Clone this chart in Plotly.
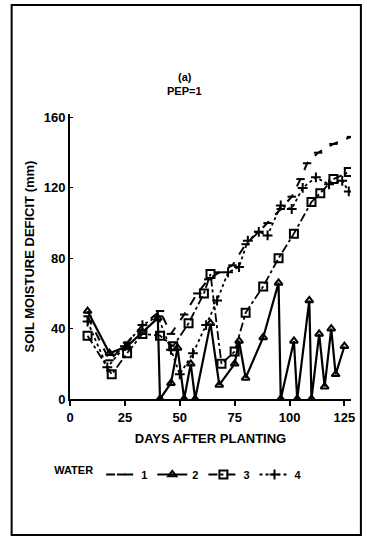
import plotly.graph_objects as go

# ---- data ----
days_w1 = [8, 18, 26, 33, 41, 46, 52, 58, 63, 68, 74, 80, 86, 90, 96, 101, 105, 108, 113, 120, 128]
vals_w1 = [47, 22, 32, 42, 50, 37, 48, 60, 68, 72, 76, 88, 95, 100, 108, 115, 125, 134, 140, 145, 149]

days_w2 = [8, 18, 26, 33, 40, 41, 46, 49, 52, 55, 57, 64, 68, 75, 77, 80, 88, 95, 96, 102, 103.5, 109, 110, 113.5, 116, 119, 121, 125]
vals_w2 = [50, 26, 30, 38, 46, 0, 9, 29, 0, 20, 0, 43, 8, 20, 33, 12, 35, 66, 0, 33, 0, 56, 0, 37, 7, 40, 14, 30]

days_w3 = [8, 19, 26, 33, 41, 47, 54, 61, 64, 69, 75, 80, 88, 95, 102, 110, 114, 120, 127]
vals_w3 = [36, 14, 26, 37, 36, 30, 43, 60, 71, 20, 27, 49, 64, 80, 94, 112, 117, 125, 129]

days_w4 = [8, 17, 25, 33, 40, 46, 50, 56, 62, 67, 72, 77, 81, 86, 90, 96, 101, 106, 112, 118, 124, 127]
vals_w4 = [44, 18, 30, 42, 47, 28, 14, 26, 42, 56, 72, 75, 90, 95, 93, 110, 108, 120, 126, 122, 124, 118]

x_ticks = [0, 25, 50, 75, 100, 125]
y_ticks = [0, 40, 80, 120, 160]

# ---- layout geometry (pixels) ----
W, H = 367, 539
L, R, T, B = 70, 13, 114, 140
pw, ph = W - L - R, H - T - B


def px(xp):
    return (xp - L) / pw


def py(yp):
    return (H - B - yp) / ph


FAM = "Liberation Sans"
font = dict(family=FAM, size=12, color="black")

fig = go.Figure()
fig.add_trace(go.Scatter(x=days_w1, y=vals_w1, name="1", mode="lines+markers",
                         line=dict(color="black", width=2, dash="dash"),
                         marker=dict(symbol="line-ew", size=6, color="black",
                                     line=dict(width=2, color="black"))))
fig.add_trace(go.Scatter(x=days_w2, y=vals_w2, name="2", mode="lines+markers",
                         line=dict(color="black", width=2.2),
                         marker=dict(symbol="triangle-up-open", size=7, color="black",
                                     line=dict(width=2, color="black"))))
fig.add_trace(go.Scatter(x=days_w3, y=vals_w3, name="3", mode="lines+markers",
                         line=dict(color="black", width=1.8, dash="dashdot"),
                         marker=dict(symbol="square-open", size=8, color="black",
                                     line=dict(width=2, color="black"))))
fig.add_trace(go.Scatter(x=days_w4, y=vals_w4, name="4", mode="lines+markers",
                         line=dict(color="black", width=1.8, dash="dot"),
                         marker=dict(symbol="cross-thin", size=7, color="black",
                                     line=dict(width=2, color="black"))))

fig.update_layout(
    width=W, height=H,
    margin=dict(l=L, r=R, t=T, b=B),
    paper_bgcolor="white", plot_bgcolor="white",
    font=font,
    showlegend=True,
    legend=dict(orientation="h", x=px(52), y=py(460), xanchor="left", yanchor="top",
                title=dict(text="WATER", side="left", font=dict(size=11, family=FAM, weight="bold")),
                font=dict(size=11, family=FAM, weight="bold"),
                itemwidth=30, tracegroupgap=0, bgcolor="rgba(0,0,0,0)"),
    xaxis=dict(range=[0, 128], tickvals=x_ticks, ticktext=[str(v) for v in x_ticks],
               showgrid=False, zeroline=False, showline=True, linecolor="black", linewidth=2,
               ticks="outside", ticklen=5, tickwidth=2, tickcolor="black",
               tickfont=dict(size=13, family=FAM, weight="bold"),
               title=dict(text="DAYS AFTER PLANTING", standoff=10,
                          font=dict(size=13, family=FAM, weight="bold"))),
    yaxis=dict(range=[0, 162], tickvals=y_ticks, ticktext=[str(v) for v in y_ticks],
               showgrid=False, zeroline=False, showline=True, linecolor="black", linewidth=2,
               ticks="inside", ticklen=3, tickwidth=1, tickcolor="black",
               tickfont=dict(size=13, family=FAM, weight="bold"),
               title=dict(text="SOIL MOISTURE DEFICIT (mm)", standoff=6,
                          font=dict(size=13, family=FAM, weight="bold"))),
    shapes=[dict(type="rect", xref="paper", yref="paper",
                 x0=px(11), x1=px(364), y0=py(535), y1=py(5),
                 line=dict(color="black", width=2))],
    annotations=[
        dict(text="(a)", xref="paper", yref="paper", x=px(186), y=py(69),
             showarrow=False, font=dict(size=11, family=FAM, weight="bold")),
        dict(text="PEP=1", xref="paper", yref="paper", x=px(186), y=py(83),
             showarrow=False, font=dict(size=11, family=FAM, weight="bold")),
    ],
)

fig.write_html("out.html")
